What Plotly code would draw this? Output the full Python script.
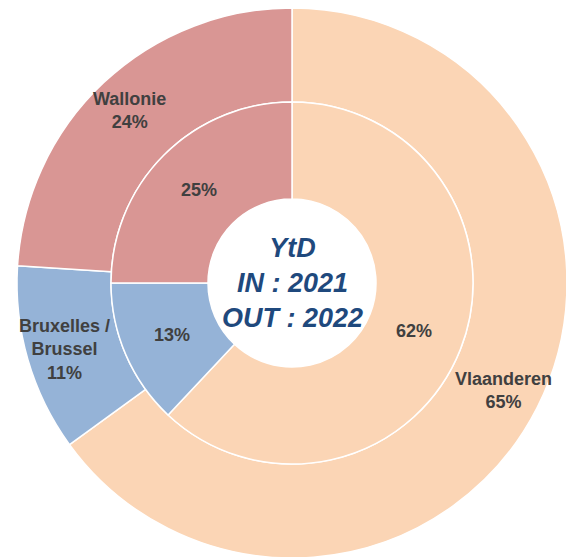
import math
import plotly.graph_objects as go

regions = ["Vlaanderen", "Bruxelles /<br>Brussel", "Wallonie"]
share_out = [65, 11, 24]   # outer ring, OUT : 2022
share_in = [62, 13, 25]    # inner ring, IN : 2021
colors = ["#FBD5B5", "#95B3D7", "#D99694"]

W, H = 574, 557
# the page body adds 8px around the plot
ml, mr, mt, mb = 9, 15, 0, 7
plot_w = W - ml - mr
plot_h = H - mt - mb
outer_r = 275
inner_r = 181
hole_r = 84

half = inner_r / plot_w
dom = [0.5 - half, 0.5 + half]

label_font = dict(family="Liberation Sans, Arial", size=18, color="#404040")

fig = go.Figure()

fig.add_trace(go.Pie(
    labels=regions,
    values=share_out,
    sort=False,
    direction="clockwise",
    rotation=0,
    hole=inner_r / outer_r,
    marker=dict(colors=colors, line=dict(color="white", width=1.5)),
    textinfo="none",
    hoverinfo="label+percent",
    domain=dict(x=[0, 1], y=[0, 1]),
    showlegend=False,
))

fig.add_trace(go.Pie(
    labels=regions,
    values=share_in,
    sort=False,
    direction="clockwise",
    rotation=0,
    hole=hole_r / inner_r,
    marker=dict(colors=colors, line=dict(color="white", width=1.5)),
    textinfo="none",
    hoverinfo="label+percent",
    domain=dict(x=dom, y=dom),
    showlegend=False,
))


def ring_labels(values, names, radius):
    """labels at the middle angle of every slice, like Excel does"""
    total = sum(values)
    start = 0
    for v, name in zip(values, names):
        mid = (start + v / 2) / total * 2 * math.pi
        start += v
        pct = "%d%%" % round(100 * v / total)
        txt = pct if name is None else name + "<br>" + pct
        fig.add_annotation(
            x=0.5 + radius * math.sin(mid) / plot_w,
            y=0.5 + radius * math.cos(mid) / plot_h,
            xref="paper", yref="paper",
            xanchor="center", yanchor="middle",
            text="<b>" + txt + "</b>",
            showarrow=False,
            font=label_font,
            align="center",
        )


ring_labels(share_out, regions, 237)
ring_labels(share_in, [None] * len(share_in), 131)

fig.add_annotation(
    x=0.5, y=0.5, xref="paper", yref="paper",
    xanchor="center", yanchor="middle",
    text="<b><i>YtD<br>IN : 2021<br>OUT : 2022</i></b>",
    showarrow=False,
    font=dict(family="Liberation Sans, Arial", size=27, color="#1F497D"),
    align="center",
)

fig.update_layout(
    width=W, height=H,
    margin=dict(l=ml, r=mr, t=mt, b=mb),
    paper_bgcolor="white",
    plot_bgcolor="white",
)

fig.write_html("out.html")
